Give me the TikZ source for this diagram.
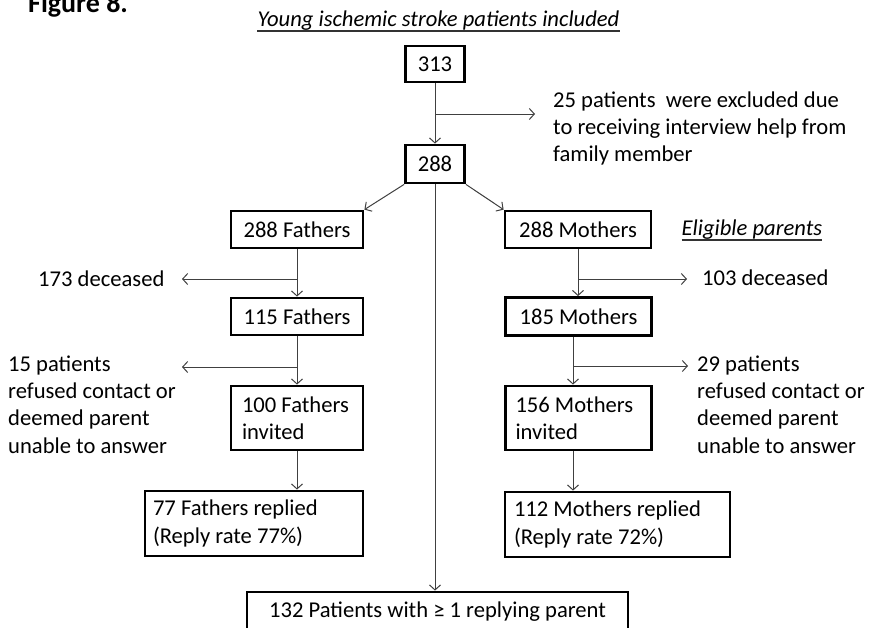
\documentclass[tikz,border=0pt]{standalone}
\usepackage{fontspec}
\setmainfont{Carlito}
\usetikzlibrary{arrows.meta}
\newcommand\fsz{\fontsize{22.6}{27.3}\selectfont}
\begin{document}
\begin{tikzpicture}[x=1pt,y=-1pt,
  box/.style={draw=black, line width=2.8pt, inner sep=0pt, font=\fsz},
  arr/.style={draw=black!75, line width=1pt, -{Straight Barb[length=5pt,width=11pt]}},
  txt/.style={anchor=base west, inner sep=0pt, align=flush left, font=\fsz},
  uline/.style={draw=black!80, line width=1.3pt},
]
\useasboundingbox (0,0) rectangle (870,627);

% titles
\node[anchor=base west, inner sep=0pt, font=\bfseries\fontsize{28}{32}\selectfont] (fig) at (28,12) {Figure 8.};
\node[anchor=base, inner sep=0pt, font=\itshape\fsz] (title) at (438.5,26) {Young ischemic stroke patients included};
\draw[uline] ([yshift=-5pt]title.base west) -- ([yshift=-5pt]title.base east);

% boxes
\node[box, minimum width=59pt, minimum height=36pt] (n313) at (435,64) {313};
\node[box, minimum width=59pt, minimum height=38pt] (n288) at (435,164) {288};

\node[box, minimum width=132pt, minimum height=37pt] (f288) at (297,229.5) {288 Fathers};
\node[box, minimum width=132pt, minimum height=37pt] (f115) at (297,316.5) {115 Fathers};
\node[box, text width=110pt, inner xsep=11pt, minimum height=64pt, align=flush left] (f100) at (297,418) {100 Fathers\\invited};
\node[box, text width=202pt, inner xsep=8pt, minimum height=65pt, align=flush left] (f77) at (254,523.5) {77 Fathers replied\\(Reply rate 77\%)};

\node[box, minimum width=146pt, minimum height=37pt] (m288) at (578,229.5) {288 Mothers};
\node[box, minimum width=146pt, minimum height=38pt] (m185) at (578.5,316.5) {185 Mothers};
\node[box, text width=126pt, inner xsep=10pt, minimum height=64pt, align=flush left] (m156) at (578.5,418) {156 Mothers\\invited};
\node[box, text width=207pt, inner xsep=9pt, minimum height=65pt, align=flush left] (m112) at (617.5,524.5) {112 Mothers replied\\(Reply rate 72\%)};

\node[box, minimum width=381pt, minimum height=40pt] (bot) at (437.5,612) {132 Patients with ≥ 1 replying parent};

% side texts (base anchor = baseline of the last line)
\node[txt] (ex25) at (553,161.6) {25 patients\ \ were excluded due\\to receiving interview help from\\family member};
\node[txt] (fdec) at (38,286) {173 deceased};
\node[txt] (fref) at (8,453) {15 patients\\refused contact or\\deemed parent\\unable to answer};
\node[txt] (mdec) at (702,285) {103 deceased};
\node[txt] (mref) at (697,453) {29 patients\\refused contact or\\deemed parent\\unable to answer};
\node[anchor=base west, inner sep=0pt, font=\itshape\fsz] (elig) at (681.5,235) {Eligible parents};
\draw[uline] ([yshift=-5pt]elig.base west) -- ([yshift=-5pt]elig.base east);

% coordinates for free ends
\coordinate (e1) at (535,114);
\coordinate (fd) at (182,279);
\coordinate (fr) at (182,367);
\coordinate (md) at (687,279);
\coordinate (mr) at (688,366);

% connectors
\draw[arr] (n313.south) -- (n288.north);
\draw[arr] (n313.south |- e1) -- (e1);
\draw[arr] (n288.south west) -- (f288.north east);
\draw[arr] (n288.south east) -- (m288.north west);
\draw[arr] (n288.south) -- (n288.south |- bot.north);

\draw[arr] (f288.south) -- (f115.north);
\draw[arr] (f288.south |- fd) -- (fd);
\draw[arr] (f115.south) -- (f100.north);
\draw[arr] (f115.south |- fr) -- (fr);
\draw[arr] (f100.south) -- (f100.south |- f77.north);

\draw[arr] ([xshift=-0.5pt]m185.north |- m288.south) -- ([xshift=-0.5pt]m185.north);
\draw[arr] (m288.south |- md) -- (md);
\draw[arr] ([xshift=-5.5pt]m185.south) -- ([xshift=-5.5pt]m156.north);
\draw[arr] ([xshift=-5.5pt]m185.south |- mr) -- (mr);
\draw[arr] ([xshift=-5.5pt]m156.south) -- ([xshift=-5.5pt]m156.south |- m112.north);
\end{tikzpicture}
\end{document}
